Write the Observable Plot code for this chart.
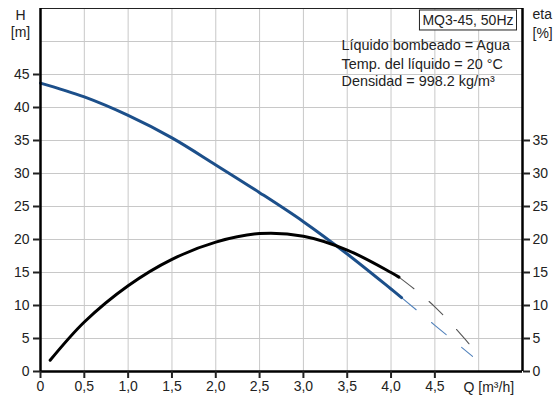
<!DOCTYPE html>
<html>
<head>
<meta charset="utf-8">
<script src="https://cdn.jsdelivr.net/npm/d3@7"></script>
<script src="https://cdn.jsdelivr.net/npm/@observablehq/plot@0.6"></script>
<style>
  html, body { margin: 0; padding: 0; background: #fff; }
</style>
</head>
<body>
<div id="chart"></div>
<script>
// Head curve H [m] vs Q [m³/h]
const qH = [0, 0.5, 1.0, 1.5, 2.0, 2.5, 3.0, 3.5, 4.0, 4.12];
const hVal = [43.7, 41.6, 38.8, 35.4, 31.3, 27.1, 22.7, 17.8, 12.5, 11.2];
// Extrapolated (dashed) head
const qHd = [4.12, 4.5, 4.93];
const hValD = [11.2, 7.0, 2.3];
// Efficiency curve eta [%]
const qE = [0.11, 0.5, 1.0, 1.5, 2.0, 2.5, 3.0, 3.5, 4.0, 4.09];
const etaVal = [1.7, 7.5, 13.0, 17.0, 19.6, 20.9, 20.5, 18.4, 15.0, 14.3];
// Extrapolated (dashed) efficiency
const qEd = [4.09, 4.5, 4.89];
const etaValD = [14.3, 9.8, 4.2];

const xTicks = [0, 0.5, 1.0, 1.5, 2.0, 2.5, 3.0, 3.5, 4.0, 4.5];
const xGrid = [0.5, 1.0, 1.5, 2.0, 2.5, 3.0, 3.5, 4.0, 4.5, 5.0];
const yTicksLeft = [0, 5, 10, 15, 20, 25, 30, 35, 40, 45];
const yTicksRight = [0, 5, 10, 15, 20, 25, 30, 35];
const yGrid = [5, 10, 15, 20, 25, 30, 35, 40, 45, 50];

const title = "MQ3-45, 50Hz";
const infoLines = ["Líquido bombeado = Agua", "Temp. del líquido = 20 °C", "Densidad = 998.2 kg/m³"];

const H = qH.map((q, i) => ({q, v: hVal[i]}));
const Hd = qHd.map((q, i) => ({q, v: hValD[i]}));
const E = qE.map((q, i) => ({q, v: etaVal[i]}));
const Ed = qEd.map((q, i) => ({q, v: etaValD[i]}));

const fmtX = d => d === 0 ? "0" : d.toFixed(1).replace(".", ",");
const txt = "#222";
const blue = "#1c4f8a";
const lbl = (s, o) => Plot.text([s], Object.assign({text: d => d, lineAnchor: "middle", fill: txt}, o));

const chart = Plot.plot({
  width: 557,
  height: 396,
  marginLeft: 40,
  marginRight: 35,
  marginTop: 8,
  marginBottom: 25,
  style: {fontFamily: "'Liberation Sans', Arial, sans-serif", fontSize: "14px", color: txt, background: "#fff"},
  x: {domain: [0, 5.5]},
  y: {domain: [0, 55]},
  marks: [
    Plot.ruleX(xGrid, {stroke: "#c8c8c8", strokeWidth: 1}),
    Plot.ruleY(yGrid, {stroke: "#c8c8c8", strokeWidth: 1}),
    Plot.ruleY([55], {stroke: "#222", strokeWidth: 1}),
    Plot.line(Hd, {x: "q", y: "v", stroke: "#5282bb", strokeWidth: 1.1, strokeDasharray: "19,20", curve: "monotone-x"}),
    Plot.line(Ed, {x: "q", y: "v", stroke: "#555", strokeWidth: 1.1, strokeDasharray: "19,20", curve: "monotone-x"}),
    Plot.line(H, {x: "q", y: "v", stroke: blue, strokeWidth: 3, curve: "catmull-rom"}),
    Plot.line(E, {x: "q", y: "v", stroke: "#000", strokeWidth: 3, curve: "catmull-rom"}),
    Plot.ruleX([0], {stroke: "#000", strokeWidth: 2.5}),
    Plot.ruleX([5.5], {stroke: "#000", strokeWidth: 2.5}),
    Plot.ruleY([0], {stroke: "#000", strokeWidth: 2.5}),
    Plot.axisY(yTicksLeft, {anchor: "left", tickSize: 7, tickPadding: 4, strokeWidth: 2, label: null, fill: txt}),
    Plot.axisY(yTicksRight, {anchor: "right", tickSize: 7, tickPadding: 3, strokeWidth: 2, label: null, fill: txt}),
    Plot.axisX(xTicks, {anchor: "bottom", tickSize: 7, tickPadding: 3, strokeWidth: 2, tickFormat: fmtX, label: null, fill: txt}),
    lbl("H", {frameAnchor: "top-left", dx: -20, dy: 7, textAnchor: "middle"}),
    lbl("[m]", {frameAnchor: "top-left", dx: -20, dy: 24, textAnchor: "middle"}),
    lbl("eta", {frameAnchor: "top-right", dx: 10, dy: 6, textAnchor: "start"}),
    lbl("[%]", {frameAnchor: "top-right", dx: 10, dy: 25, textAnchor: "start"}),
    lbl("Q [m³/h]", {frameAnchor: "bottom-left", dx: 423, dy: 16, textAnchor: "start"}),
    lbl(title, {frameAnchor: "top-right", dx: -9, dy: 12, textAnchor: "end", className: "mqtitle"}),
    lbl(infoLines[0], {frameAnchor: "top-left", dx: 301, dy: 37, textAnchor: "start", fontSize: 14.4}),
    lbl(infoLines[1], {frameAnchor: "top-left", dx: 301, dy: 55.5, textAnchor: "start", fontSize: 14.4}),
    lbl(infoLines[2], {frameAnchor: "top-left", dx: 301, dy: 73, textAnchor: "start", fontSize: 14.4})
  ]
});
document.getElementById("chart").appendChild(chart);

// Box around the model title
const t = chart.querySelector(".mqtitle text");
if (t) {
  const b = t.getBBox();
  const g = t.parentNode;
  const tr = t.getAttribute("transform");
  const r = document.createElementNS("http://www.w3.org/2000/svg", "rect");
  r.setAttribute("x", b.x - 3);
  r.setAttribute("y", b.y - 2);
  r.setAttribute("width", b.width + 6);
  r.setAttribute("height", b.height + 4);
  r.setAttribute("fill", "#fff");
  r.setAttribute("stroke", "#222");
  r.setAttribute("stroke-width", "1");
  if (tr) r.setAttribute("transform", tr);
  g.insertBefore(r, t);
}
</script>
</body>
</html>
